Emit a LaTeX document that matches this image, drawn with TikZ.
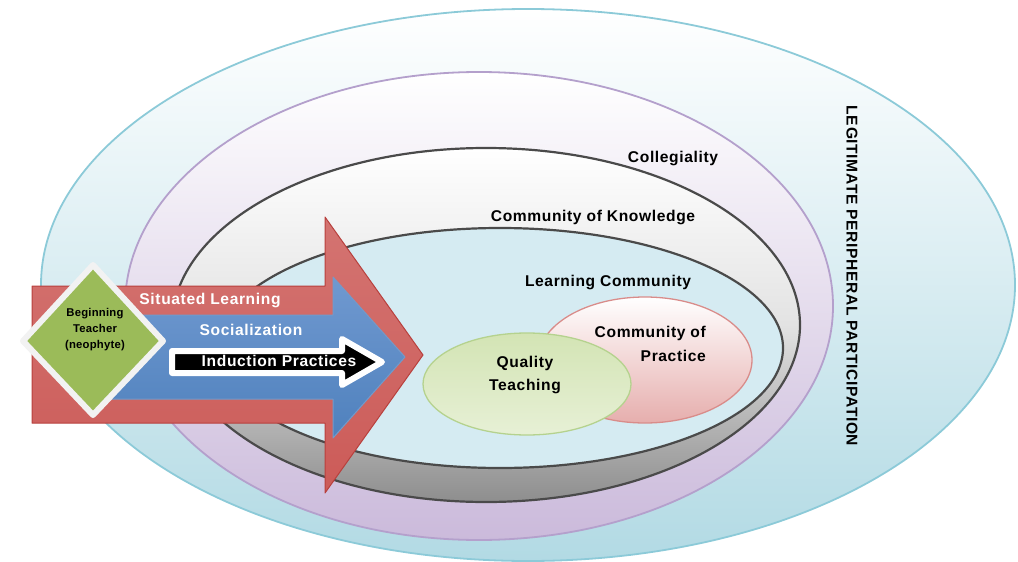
\documentclass[tikz,border=0pt]{standalone}
\usepackage{fontspec}
\setmainfont{Liberation Sans}
\newfontfamily\lbl[LetterSpace=4]{Liberation Sans}
\newfontfamily\lbls[LetterSpace=2]{Liberation Sans}
\definecolor{outerline}{HTML}{8CCAD8}
\definecolor{outerbot}{HTML}{B2DAE4}
\definecolor{purpline}{HTML}{B4A0CC}
\definecolor{purpbot}{HTML}{CBBADB}
\definecolor{grayline}{HTML}{4A4A4A}
\definecolor{graybot}{HTML}{8E8E8E}
\definecolor{innerfill}{HTML}{D5EBF2}
\definecolor{pinkline}{HTML}{D98C8A}
\definecolor{pinkbot}{HTML}{E6AEAD}
\definecolor{greenline}{HTML}{B5D28E}
\definecolor{greenfill}{HTML}{D3E4B4}
\definecolor{redfill}{HTML}{CC5B58}
\definecolor{redline}{HTML}{B8403D}
\definecolor{bluefill}{HTML}{4F81BD}
\definecolor{bluetop}{HTML}{7099D0}
\definecolor{diamondfill}{HTML}{9BBB59}
\begin{document}
\begin{tikzpicture}[x=1pt,y=-1pt,
  ringtext/.style={font=\lbl\bfseries\fontsize{15.6}{18}\selectfont, text=black, inner sep=0pt},
  arrowtext/.style={font=\lbl\bfseries\fontsize{15.6}{18}\selectfont, text=white, inner sep=0pt},
  smalltext/.style={font=\lbls\bfseries\fontsize{11.3}{16}\selectfont, align=center, inner sep=0pt},
  line join=round]
\useasboundingbox (0,0) rectangle (1018,562);
% outer ellipse
\shade[top color=white, bottom color=outerbot] (528,285) ellipse [x radius=487, y radius=276];
\draw[outerline, line width=1.8pt] (528,285) ellipse [x radius=487, y radius=276];
% purple ellipse
\shade[top color=white, bottom color=purpbot] (479,306) ellipse [x radius=354, y radius=234];
\draw[purpline, line width=1.8pt] (479,306) ellipse [x radius=354, y radius=234];
% gray ellipse
\shade[top color=white, bottom color=graybot, middle color=white!75!graybot] (486,325) ellipse [x radius=314, y radius=177];
\draw[grayline, line width=2.2pt] (486,325) ellipse [x radius=314, y radius=177];
% inner ellipse
\fill[innerfill] (500,348) ellipse [x radius=283, y radius=120];
\draw[grayline, line width=2.2pt] (500,348) ellipse [x radius=283, y radius=120];
% community of practice
\shade[top color=white, bottom color=pinkbot] (645,360) ellipse [x radius=107, y radius=63];
\draw[pinkline, line width=1.3pt] (645,360) ellipse [x radius=107, y radius=63];
% quality teaching
\shade[top color=greenfill, bottom color=greenfill!55!white] (527,384) ellipse [x radius=104, y radius=51];
\draw[greenline, line width=1.3pt] (527,384) ellipse [x radius=104, y radius=51];
% red arrow
\shade[top color=redfill!85!white, bottom color=redfill, draw=redline, line width=1pt]
  (32,286) -- (325,286) -- (325,217) -- (423,355) -- (325,493) -- (325,423) -- (32,423) -- cycle;
% blue arrow
\shade[top color=bluetop, bottom color=bluefill, draw=bluefill!80!white, line width=1pt]
  (100,315) -- (333,315) -- (333,277) -- (405,357) -- (333,438) -- (333,399) -- (100,399) -- cycle;
% black arrow
\draw[white, line width=6pt, fill=black]
  (172,351) -- (342,351) -- (342,339) -- (382,362) -- (342,385) -- (342,373) -- (172,373) -- cycle;
% diamond
\draw[fill=diamondfill, draw=black!5, line width=6pt]
  (93,265) -- (163,341) -- (93,415) -- (23,341) -- cycle;
% texts
\node[smalltext] (bt) at (95,330) {Beginning\\Teacher\\(neophyte)};
\node[arrowtext] (sl) at (210,300) {Situated Learning};
\node[arrowtext] (so) at (251,330) {Socialization};
\node[arrowtext] (ip) at (279,361) {Induction Practices};
\node[ringtext] (col) at (673,158) {Collegiality};
\node[ringtext] (cok) at (593,217) {Community of Knowledge};
\node[ringtext] (lc) at (608,282) {Learning Community};
\node[ringtext, align=right, anchor=east, font=\lbl\bfseries\fontsize{15.6}{24}\selectfont] (cop) at (706,344) {Community of\\Practice};
\node[ringtext, align=center, font=\lbl\bfseries\fontsize{15.6}{23}\selectfont] (qt) at (525,375) {Quality\\Teaching};
\node[ringtext, rotate=-90, font=\lbl\bfseries\fontsize{15.6}{18}\selectfont] (lpp) at (852,276) {LEGITIMATE PERIPHERAL PARTICIPATION};
\end{tikzpicture}
\end{document}
